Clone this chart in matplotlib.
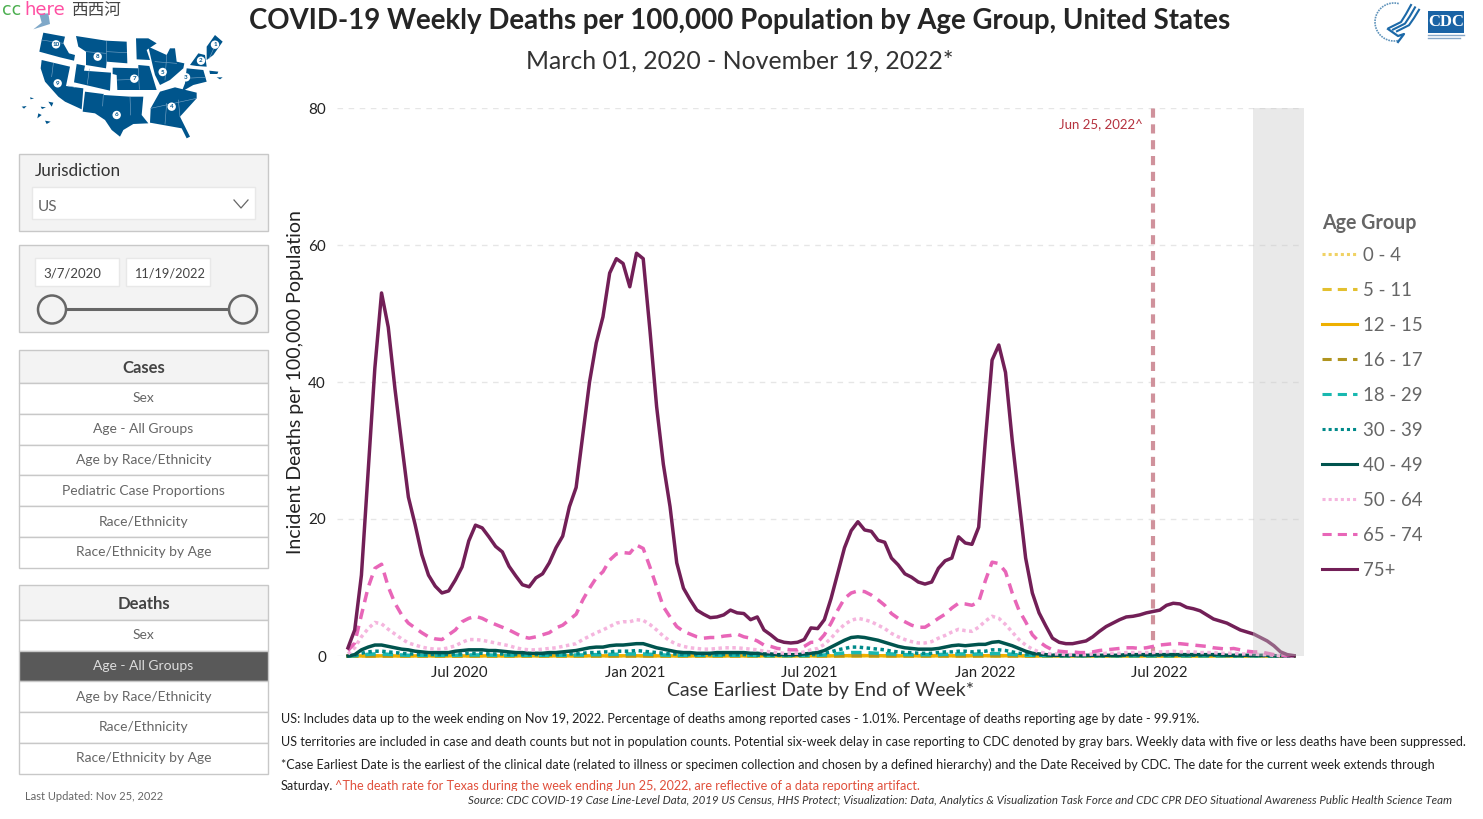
# -*- coding: utf-8 -*-
import numpy as np
import pandas as pd
from matplotlib import pyplot as plt
from matplotlib.patches import Rectangle, Polygon, Circle
from matplotlib.lines import Line2D
import matplotlib.dates as mdates

plt.rcParams['font.family'] = ['Lato', 'Noto Sans CJK SC', 'DejaVu Sans']

# データ (weekly)
weeks = pd.date_range("2020-03-07", periods=142, freq="7D")

age_groups = ["0 - 4", "5 - 11", "12 - 15", "16 - 17", "18 - 29",
              "30 - 39", "40 - 49", "50 - 64", "65 - 74", "75+"]

d_75 = [1.2, 3.8, 11.8, 27, 42, 53, 48, 39, 31, 23.2,
        19.2, 14.8, 11.8, 10.2, 9.2, 9.5, 11.1, 13, 16.8, 19.1,
        18.7, 17.4, 16, 15.2, 13.1, 11.7, 10.4, 10.1, 11.4, 12,
        13.6, 15.8, 17.5, 21.8, 24.6, 32.3, 40, 45.7, 49.5, 55.9,
        58, 57.3, 53.9, 58.8, 58, 47.6, 36.4, 28, 21.8, 13.6,
        9.9, 8.2, 6.7, 6.1, 5.6, 5.7, 6, 6.7, 6.3, 6.2,
        5.3, 5.7, 3.8, 3.1, 2.3, 2, 1.9, 2, 2.4, 4.1,
        4, 5.3, 8.4, 12.1, 15.8, 18.3, 19.6, 18.4, 18.2, 16.9,
        16.6, 14.3, 13.3, 12, 11.5, 10.8, 10.5, 10.8, 12.8, 13.9,
        14.3, 17.4, 16.5, 16.3, 18.8, 31.5, 43.2, 45.4, 41.4, 31.5,
        22.8, 14.3, 9.2, 6.3, 4.4, 2.6, 2, 1.8, 1.8, 2,
        2.2, 2.8, 3.6, 4.3, 4.8, 5.3, 5.7, 5.8, 6, 6.3,
        6.5, 6.7, 7.4, 7.7, 7.6, 7.1, 6.9, 6.6, 6, 5.4,
        5.1, 4.8, 4.3, 3.8, 3.5, 3.2, 2.7, 2.2, 1.5, .6,
        .2, .05]
d_65 = [.8, 1.9, 6, 10, 12.8, 13.4, 10.1, 7.7, 6, 4.8,
        4.1, 3.4, 2.8, 2.5, 2.4, 3.1, 3.8, 5, 5.5, 5.8,
        5.5, 5, 4.6, 4.2, 3.8, 3.3, 2.8, 2.6, 2.8, 3.1,
        3.4, 4.1, 4.5, 5.3, 6.1, 8.2, 9.9, 11.4, 12.3, 14,
        14.9, 15.1, 15, 16.2, 15.7, 13, 10.1, 7.2, 5.7, 4.3,
        3.6, 3.2, 2.8, 2.6, 2.7, 2.7, 2.9, 3, 3.2, 2.8,
        2.6, 2.2, 1.6, 1.4, 1.1, 1, .9, .9, 1.4, 2,
        2, 3.1, 4.8, 6.7, 8.4, 9.2, 9.5, 9.4, 8.9, 8.2,
        7.4, 6.2, 5.5, 5, 4.5, 4.2, 4.2, 4.8, 5.5, 6.1,
        7, 7.7, 7.6, 7.4, 7.9, 11, 13.7, 13.5, 12.3, 9.2,
        6.7, 5, 3.1, 2.1, 1.4, .9, .7, .6, .6, .5,
        .5, .6, .8, .9, 1, 1.1, 1.2, 1.2, 1.1, 1.2,
        1.4, 1.6, 1.7, 1.8, 1.8, 1.7, 1.6, 1.5, 1.4, 1.2,
        1.1, 1, 1.1, .9, .7, .6, .6, .4, .2, .1,
        .05, 0]
d_50 = [.3, 1.2, 2.8, 4, 4.9, 4.7, 3.9, 3.2, 2.5, 1.9,
        1.6, 1.3, 1.1, 1, 1, 1.2, 1.5, 2, 2.4, 2.4,
        2.3, 2.1, 1.9, 1.7, 1.5, 1.2, 1, .9, .9, 1,
        1.1, 1.2, 1.4, 1.6, 1.8, 2.4, 2.9, 3.4, 3.8, 4.3,
        4.8, 5, 5, 5.3, 5.2, 4.6, 3.8, 2.9, 2.2, 1.7,
        1.4, 1.2, 1.1, 1, 1, 1.1, 1.2, 1.2, 1.2, 1.1,
        1, .9, .7, .6, .5, .4, .4, .4, .6, .9,
        1.1, 1.7, 2.6, 3.7, 4.6, 5.2, 5.5, 5.3, 5, 4.5,
        4, 3.3, 2.8, 2.4, 2.1, 1.9, 1.9, 2.1, 2.6, 3,
        3.5, 3.9, 3.7, 3.6, 4.2, 5.1, 5.8, 5.5, 4.6, 3.5,
        2.4, 1.6, 1, .6, .4, .3, .3, .2, .2, .2,
        .2, .3, .3, .4, .4, .4, .5, .5, .5, .5,
        .5, .6, .6, .7, .6, .6, .6, .5, .5, .5,
        .4, .4, .4, .3, .3, .3, .2, .2, .1, .05,
        .02, 0]
d_40 = [0, .2, .9, 1.3, 1.6, 1.6, 1.4, 1.2, 1, .9,
        .7, .6, .5, .5, .5, .5, .7, .8, .9, .9,
        .9, .8, .8, .7, .6, .5, .5, .4, .4, .4,
        .5, .5, .6, .7, .8, 1, 1.2, 1.3, 1.3, 1.5,
        1.6, 1.6, 1.7, 1.8, 1.8, 1.5, 1.2, 1, .8, .6,
        .5, .5, .4, .4, .4, .5, .5, .5, .5, .5,
        .4, .4, .3, .3, .2, .2, .2, .2, .3, .4,
        .5, .8, 1.3, 1.8, 2.3, 2.7, 2.8, 2.7, 2.5, 2.3,
        2, 1.7, 1.4, 1.2, 1.1, 1, 1, 1, 1.1, 1.3,
        1.5, 1.6, 1.5, 1.6, 1.7, 1.7, 2, 2.1, 1.8, 1.5,
        1.1, .7, .4, .3, .2, .1, .1, .1, .1, .1,
        .1, .1, .1, .1, .1, .1, .2, .2, .2, .2,
        .2, .2, .2, .2, .2, .2, .2, .2, .2, .2,
        .2, .1, .1, .1, .1, .1, .1, .1, .05, .02,
        0, 0]
d_30 = [0, .1, .4, .6, .7, .7, .6, .5, .4, .3,
        .3, .2, .2, .2, .2, .2, .3, .3, .4, .4,
        .4, .3, .3, .3, .2, .2, .2, .2, .2, .2,
        .2, .2, .2, .3, .3, .4, .5, .5, .6, .6,
        .7, .7, .7, .8, .7, .6, .5, .4, .3, .3,
        .2, .2, .2, .2, .2, .2, .2, .2, .2, .2,
        .2, .1, .1, .1, .1, .1, .1, .1, .1, .2,
        .2, .4, .6, .9, 1.1, 1.3, 1.3, 1.2, 1.1, 1,
        .9, .7, .6, .5, .5, .4, .4, .4, .5, .6,
        .6, .7, .7, .6, .7, .7, .9, .9, .8, .6,
        .4, .3, .2, .1, .1, .1, .05, .05, .05, .05,
        .05, .05, .05, .05, .05, .05, .1, .1, .1, .1,
        .1, .1, .1, .1, .1, .1, .1, .1, .1, .1,
        .1, .05, .05, .05, .05, .05, .05, .05, .02, 0,
        0, 0]
d_18 = [0, .03, .15, .25, .3, .3, .25, .2, .15, .1,
        .1, .1, .1, .1, .1, .1, .1, .15, .15, .15,
        .15, .15, .1, .1, .1, .1, .1, .1, .1, .1,
        .1, .1, .1, .1, .15, .15, .2, .2, .2, .25,
        .25, .3, .3, .3, .3, .25, .2, .15, .1, .1,
        .1, .1, .1, .1, .1, .1, .1, .1, .1, .1,
        .1, .05, .05, .05, .05, .05, .05, .05, .05, .1,
        .1, .15, .25, .35, .45, .5, .5, .5, .45, .4,
        .35, .3, .25, .2, .2, .2, .2, .2, .2, .25,
        .25, .3, .3, .25, .3, .3, .35, .35, .3, .25,
        .15, .1, .1, .05, .05, .05, .03, .03, .03, .03,
        .03, .03, .03, .03, .03, .03, .03, .03, .03, .03,
        .03, .03, .03, .03, .03, .03, .03, .03, .03, .03,
        .03, .03, .03, .03, .02, .02, .02, .02, .01, 0,
        0, 0]
d_16 = [0, 0, .01, .02, .02, .02, .02, .01, .01, .01,
        .01, .01, .01, .01, .01, .01, .01, .02, .02, .02,
        .02, .01, .01, .01, .01, .01, .01, .01, .01, .01,
        .01, .01, .01, .01, .01, .02, .02, .02, .02, .02,
        .03, .03, .03, .03, .03, .02, .02, .01, .01, .01,
        .01, .01, .01, .01, .01, .01, .01, .01, .01, .01,
        .01, .01, .01, .01, .01, .01, .01, .01, .01, .01,
        .01, .02, .03, .04, .05, .06, .06, .05, .05, .04,
        .04, .03, .03, .02, .02, .02, .02, .02, .03, .03,
        .03, .03, .03, .03, .04, .04, .05, .05, .04, .03,
        .02, .01, .01, .01, .01, .01, .01, .01, .01, .01,
        .01, .01, .01, .01, .01, .01, .01, .01, .01, .01,
        .01, .01, .01, .01, .01, .01, .01, .01, .01, .01,
        .01, .01, .01, .01, .01, .01, 0, 0, 0, 0,
        0, 0]
d_12 = [0, 0, .01, .01, .02, .02, .01, .01, .01, .01,
        .01, .01, .01, .01, .01, .01, .01, .01, .02, .02,
        .01, .01, .01, .01, .01, .01, .01, .01, .01, .01,
        .01, .01, .01, .01, .01, .01, .02, .02, .02, .02,
        .02, .03, .03, .03, .02, .02, .01, .01, .01, .01,
        .01, .01, .01, .01, .01, .01, .01, .01, .01, .01,
        .01, .01, .01, .01, .01, .01, .01, .01, .01, .01,
        .01, .01, .02, .03, .04, .05, .05, .05, .04, .04,
        .03, .03, .02, .02, .02, .02, .02, .02, .02, .03,
        .03, .03, .03, .03, .03, .04, .04, .04, .03, .03,
        .02, .01, .01, .01, .01, .01, .01, .01, .01, .01,
        .01, .01, .01, .01, .01, .01, .01, .01, .01, .01,
        .01, .01, .01, .01, .01, .01, .01, .01, .01, .01,
        .01, .01, .01, .01, .01, .01, 0, 0, 0, 0,
        0, 0]
d_5 = [0, 0, .01, .01, .01, .01, .01, .01, .01, .01,
       .01, .01, .01, .01, .01, .01, .01, .01, .01, .01,
       .01, .01, .01, .01, .01, .01, .01, .01, .01, .01,
       .01, .01, .01, .01, .01, .01, .01, .01, .01, .01,
       .02, .02, .02, .02, .02, .01, .01, .01, .01, .01,
       .01, .01, .01, .01, .01, .01, .01, .01, .01, .01,
       .01, .01, .01, .01, .01, .01, .01, .01, .01, .01,
       .01, .01, .02, .02, .03, .03, .03, .03, .03, .02,
       .02, .02, .02, .01, .01, .01, .01, .01, .02, .02,
       .02, .02, .02, .02, .02, .03, .03, .03, .02, .02,
       .01, .01, .01, .01, .01, .01, .01, .01, .01, .01,
       .01, .01, .01, .01, .01, .01, .01, .01, .01, .01,
       .01, .01, .01, .01, .01, .01, .01, .01, .01, .01,
       .01, .01, .01, .01, .01, .01, 0, 0, 0, 0,
       0, 0]
d_0 = [0, 0, .01, .02, .03, .03, .02, .02, .01, .01,
       .01, .01, .01, .01, .01, .01, .02, .02, .02, .02,
       .02, .02, .02, .01, .01, .01, .01, .01, .01, .01,
       .01, .01, .01, .02, .02, .02, .02, .03, .03, .03,
       .03, .04, .04, .04, .03, .03, .02, .02, .01, .01,
       .01, .01, .01, .01, .01, .01, .01, .01, .01, .01,
       .01, .01, .01, .01, .01, .01, .01, .01, .01, .01,
       .02, .02, .03, .05, .06, .07, .07, .06, .06, .05,
       .05, .04, .03, .03, .03, .02, .02, .03, .03, .04,
       .04, .04, .04, .04, .05, .05, .06, .06, .05, .04,
       .03, .02, .01, .01, .01, .01, .01, .01, .01, .01,
       .01, .01, .01, .01, .01, .01, .02, .02, .02, .02,
       .02, .02, .02, .02, .02, .02, .02, .01, .01, .01,
       .01, .01, .01, .01, .01, .01, .01, 0, 0, 0,
       0, 0]

series = [d_0, d_5, d_12, d_16, d_18, d_30, d_40, d_50, d_65, d_75]
colors = ["#f0d264", "#e3c02f", "#eeb000", "#b0941f", "#18b8b0",
          "#008a8a", "#00544e", "#f5b5de", "#e866b8", "#721f57"]
styles = [(0, (1, 1)), (0, (3, 2)), "-", (0, (3, 2)), (0, (3, 2)),
          (0, (1, 1)), "-", (0, (1, 1)), (0, (3, 2)), "-"]

cases_rows = ["Sex", "Age - All Groups", "Age by Race/Ethnicity",
              "Pediatric Case Proportions", "Race/Ethnicity", "Race/Ethnicity by Age"]
deaths_rows = ["Sex", "Age - All Groups", "Age by Race/Ethnicity",
               "Race/Ethnicity", "Race/Ethnicity by Age"]

W, H = 1483, 819
fig = plt.figure(figsize=(W / 100, H / 100), dpi=100)

# overlay in pixel coords for the dashboard parts
bg = fig.add_axes([0, 0, 1, 1])
bg.set_xlim(0, W)
bg.set_ylim(H, 0)
bg.axis("off")

# main chart
ax = fig.add_axes([337 / W, 1 - 656 / H, (1304 - 337) / W, (656 - 108) / H])
for s, c, ls, name in zip(series, colors, styles, age_groups):
    ax.plot(weeks, s, color=c, linestyle=ls, lw=2.5, label=name, clip_on=False)

px_week = (1294 - 348) / 141.0
left = weeks[0] - pd.Timedelta(days=7 * (348 - 337) / px_week)
right = weeks[-1] + pd.Timedelta(days=7 * (1304 - 1294) / px_week)
ax.set_xlim(left, right)
ax.set_ylim(0, 80)
ax.set_yticks([0, 20, 40, 60, 80])
ax.set_xticks(pd.to_datetime(["2020-07-01", "2021-01-01", "2021-07-01", "2022-01-01", "2022-07-01"]))
ax.xaxis.set_major_formatter(mdates.DateFormatter("%b %Y"))
ax.tick_params(length=0, labelsize=10.7, labelcolor="#222222", pad=7.4)
ax.tick_params(axis="y", pad=8, labelsize=11)
ax.grid(axis="y", color="#e6e6e6", linestyle=(0, (4, 4)), lw=1)
ax.set_axisbelow(True)
for sp in ax.spines.values():
    sp.set_visible(False)
ax.patch.set_alpha(0)
ax.set_xlabel("Case Earliest Date by End of Week*", fontsize=14, color="#333333", labelpad=1)
ax.set_ylabel("Incident Deaths per 100,000 Population", fontsize=14.05, color="#222222", labelpad=3)

# delay band + Texas marker
ax.axvspan(weeks[135] - pd.Timedelta(days=1), right, facecolor="#c8c8c8", alpha=.4, lw=0, zorder=5)
ax.axvline(pd.Timestamp("2022-06-25"), color="#d0929c", lw=3, linestyle=(0, (2.2, 1.6)), zorder=1)
ax.annotate("Jun 25, 2022^", (pd.Timestamp("2022-06-25"), 77.6), xytext=(-7.5, 0),
            textcoords="offset points", ha="right", va="center", fontsize=9.5, color="#b5323e")

handles = [Line2D([0], [0], color=c, linestyle=ls, lw=2.2) for c, ls in zip(colors, styles)]
ax.legend(handles, age_groups, loc="upper left",
          bbox_to_anchor=(985 / 967, 1 - 139 / 548), frameon=False,
          fontsize=13.4, labelcolor="#666666", handlelength=1.9, handletextpad=.3,
          labelspacing=.965, borderpad=0, borderaxespad=0)
bg.text(1322, 223, "Age Group", fontsize=14.1, fontweight="bold", color="#666666", va="center")

# titles
bg.text(740, 21, "COVID-19 Weekly Deaths per 100,000 Population by Age Group, United States",
        ha="center", va="center", fontsize=19.9, fontweight="bold", color="#252525")
bg.text(740, 61, "March 01, 2020 - November 19, 2022*", ha="center", va="center",
        fontsize=17.9, color="#333333")

# cc here
bg.text(2, 10, "cc", color="#4caf50", fontsize=12.5, va="center", family="DejaVu Sans")
bg.text(24, 10, "here", color="#ff4fa3", fontsize=13, va="center", family="DejaVu Sans")
bg.text(71, 10, "西西河", color="#444444", fontsize=12, va="center",
        family=["Noto Sans CJK SC", "DejaVu Sans"])

# map (rough outline, numbers = HHS regions)
map_blue = "#00558c"
regions = [
    [(130, 98), (195, 110), (190, 130), (207, 160), (225, 165), (222, 182), (180, 172), (118, 155), (125, 120)],
    [(228, 108), (318, 122), (380, 125), (382, 190), (320, 185), (318, 205), (258, 195), (258, 155), (235, 140)],
    [(230, 192), (255, 197), (252, 212), (333, 218), (330, 272), (222, 247)],
    [(125, 180), (210, 200), (198, 258), (250, 265), (245, 328), (195, 305), (175, 290), (135, 245), (122, 205)],
    [(338, 203), (415, 205), (415, 195), (448, 198), (470, 270), (352, 270), (350, 225), (338, 222)],
    [(255, 275), (310, 282), (312, 285), (390, 290), (430, 290), (425, 345), (445, 370), (400, 372), (370, 390), (360, 410), (335, 390), (315, 360), (285, 340), (248, 335)],
    [(408, 115), (445, 115), (470, 130), (440, 150), (450, 180), (410, 178)],
    [(445, 140), (500, 165), (510, 145), (525, 145), (530, 185), (553, 190), (550, 205), (510, 240), (480, 255), (465, 225), (460, 205)],
    [(480, 275), (525, 262), (590, 278), (590, 295), (540, 350), (570, 410), (560, 415), (545, 385), (450, 368), (452, 325)],
    [(560, 205), (610, 210), (620, 245), (580, 255), (545, 275), (555, 250)],
    [(570, 195), (595, 160), (615, 165), (620, 200), (590, 198)],
    [(628, 212), (655, 215), (652, 222), (630, 222)],
    [(650, 232), (668, 232), (660, 238)],
    [(620, 140), (645, 105), (668, 125), (640, 165), (620, 180)],
    [(145, 305), (160, 308), (155, 320)],
    [(115, 340), (125, 345), (112, 355)],
    [(135, 362), (152, 365), (140, 372)],
    [(65, 320), (80, 318), (72, 326)],
    [(90, 292), (102, 295), (92, 298)],
    [(122, 320), (138, 322), (126, 327)],
]
for poly in regions:
    bg.add_patch(Polygon(np.array(poly) / 3.0, closed=True, fc=map_blue, ec="none", zorder=2))
bg.add_patch(Polygon(np.array([(118, 42), (145, 40), (150, 72), (100, 88), (125, 68)]) / 3.0,
                     closed=True, fc="#7fa8c8", ec="none", zorder=2))
# state lines
state_lines = [[(318, 122), (318, 185)], [(320, 155), (380, 158)], [(258, 155), (318, 160)],
               [(160, 190), (155, 230)], [(190, 130), (125, 120)], [(268, 207), (262, 252)],
               [(205, 258), (225, 262)], [(310, 282), (308, 318)], [(390, 290), (392, 345)],
               [(352, 240), (415, 238)], [(415, 205), (418, 268)], [(500, 165), (495, 240)],
               [(465, 185), (530, 190)], [(500, 310), (495, 372)], [(452, 325), (590, 295)],
               [(535, 300), (540, 350)], [(555, 235), (615, 232)], [(648, 130), (628, 175)]]
for ln in state_lines:
    p = np.array(ln) / 3.0
    bg.plot(p[:, 0], p[:, 1], color="#7fa8c8", lw=.4, zorder=3)
region_labels = [("10", 168, 133), ("8", 293, 170), ("9", 173, 250), ("7", 403, 236), ("6", 350, 345),
                 ("5", 488, 216), ("4", 515, 320), ("3", 558, 232), ("2", 603, 182), ("1", 645, 134)]
for txt, zx, zy in region_labels:
    bg.add_patch(Circle((zx / 3.0, zy / 3.0), 4.2, fc="white", ec="none", zorder=4))
    bg.text(zx / 3.0, zy / 3.0, txt, fontsize=4.5, ha="center", va="center", color=map_blue,
            fontweight="bold", zorder=5)

# logos
theta = np.linspace(np.pi * .42, np.pi * 1.6, 40)
bg.plot(1394 + 19 * np.cos(theta), 22 - 19 * np.sin(theta), color="#5f93bb", lw=1.2, linestyle=(0, (1, .6)))
eagle_blue = "#1c69a8"
for off in (0, 4, 8):
    bg.plot([1389 + off, 1401 + off, 1406 + off, 1411 + off], [28 + off * .4, 22 + off * .4, 14 + off * .5, 5 + off * .6],
            color=eagle_blue, lw=1.5)
bg.plot([1388, 1398, 1404, 1398], [29, 36, 34, 42], color=eagle_blue, lw=1.6)
bg.add_patch(Rectangle((1428, 11), 36, 22, fc="#1a63a5", ec="none"))
bg.text(1446, 21.5, "CDC", fontsize=12, color="white", ha="center", va="center", fontweight="bold",
        family="Liberation Serif")
bg.plot([1428, 1464], [35, 35], color="#88a8c8", lw=1)
bg.plot([1428, 1460], [37.5, 37.5], color="#88a8c8", lw=1)

# filters
panel_fc, panel_ec = "#f3f3f3", "#c8c8c8"
bg.add_patch(Rectangle((19, 154), 248.5, 77, fc=panel_fc, ec=panel_ec, lw=1))
bg.text(35, 171, "Jurisdiction", fontsize=12.3, color="#333333", va="center")
bg.add_patch(Rectangle((32, 187), 223, 32, fc="white", ec="#e8e8e8", lw=1))
bg.text(38, 207, "US", fontsize=11, color="#666666", va="center")
bg.plot([234, 241, 248], [200, 208, 200], color="#666666", lw=.9)

bg.add_patch(Rectangle((19, 245), 248.5, 87, fc=panel_fc, ec=panel_ec, lw=1))
bg.add_patch(Rectangle((35, 258), 84, 28, fc="white", ec="#e8e8e8", lw=1))
bg.add_patch(Rectangle((126, 258), 84, 28, fc="white", ec="#e8e8e8", lw=1))
bg.text(43, 273, "3/7/2020", fontsize=9.5, color="#444444", va="center")
bg.text(134.5, 273, "11/19/2022", fontsize=9.2, color="#444444", va="center")
bg.plot([52, 243], [309, 309], color="#666666", lw=2.2, zorder=2)
for cx in (52, 243):
    bg.add_patch(Circle((cx, 309.5), 14, fc=panel_fc, ec="#666666", lw=1.8, zorder=3))


def button_panel(title, rows, top, header_h, row_h, active=None):
    bg.add_patch(Rectangle((19, top), 248.5, header_h, fc=panel_fc, ec=panel_ec, lw=1))
    bg.text(143.5, top + header_h / 2 + 1.5, title, fontsize=12, fontweight="bold", color="#444444",
            ha="center", va="center")
    y = top + header_h
    for i, r in enumerate(rows):
        on = i == active
        bg.add_patch(Rectangle((19, y), 248.5, row_h, fc="#595959" if on else "white", ec=panel_ec, lw=1))
        bg.text(143.5, y + row_h / 2, r, fontsize=10, color="#dddddd" if on else "#666666",
                ha="center", va="center")
        y += row_h


button_panel("Cases", cases_rows, 350, 33, 30.8)
button_panel("Deaths", deaths_rows, 585, 35, 30.7, active=1)

bg.text(25, 796, "Last Updated: Nov 25, 2022", fontsize=8, color="#666666", va="center")

# footnotes
note = dict(fontsize=9.05, color="#222222", va="center")
bg.text(281, 719, "US: Includes data up to the week ending on Nov 19, 2022. Percentage of deaths among reported cases - 1.01%. Percentage of deaths reporting age by date - 99.91%.", **note)
bg.text(281, 742, "US territories are included in case and death counts but not in population counts. Potential six-week delay in case reporting to CDC denoted by gray bars. Weekly data with five or less deaths have been suppressed.", **note)
bg.text(281, 765, "*Case Earliest Date is the earliest of the clinical date (related to illness or specimen collection and chosen by a defined hierarchy) and the Date Received by CDC. The date for the current week extends through", **note)
bg.text(281, 786, "Saturday.", **note)
bg.text(335, 786, "^The death rate for Texas during the week ending Jun 25, 2022, are reflective of a data reporting artifact.",
        fontsize=9.05, color="#e0503c", va="center")
bg.add_patch(Rectangle((275, 791), 1208, 28, fc="white", ec="none", zorder=3))
bg.text(1452, 800, "Source: CDC COVID-19 Case Line-Level Data, 2019 US Census, HHS Protect; Visualization: Data, Analytics & Visualization Task Force and CDC CPR DEO Situational Awareness Public Health Science Team",
        fontsize=8.25, style="italic", color="#333333", ha="right", va="center", zorder=4)

fig.savefig("out.png", dpi=100)
